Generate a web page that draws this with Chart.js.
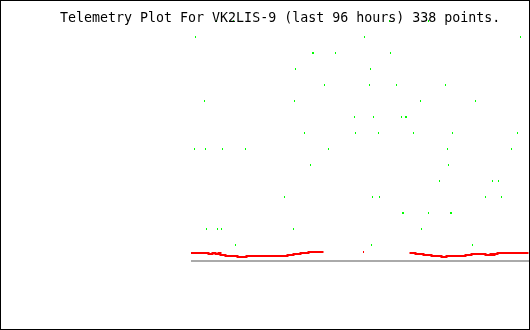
<!DOCTYPE html>
<html>
<head>
<meta charset="utf-8">
<script src="https://cdn.jsdelivr.net/npm/chart.js@4"></script>
<style>
body { margin: 0; background: #fff; }
canvas { display: block; }
</style>
</head>
<body>
<canvas id="plot" width="530" height="330"></canvas>
<script>
const plotTitle = "Telemetry Plot For VK2LIS-9 (last 96 hours) 338 points."

// green telemetry samples: point index and level
const greenIdx = [25,42,198,237, 4,173,329, 121,122,144,199, 104,179, 133,178,205,254,
    13,103,229,284, 163,182,210,214,215, 113,164,187,222,261,326, 3,14,31,54,137,256,320,
    119,257, 248,301,307, 93,181,188,294,310, 211,212,237,259,260, 15,26,30,102,230, 44,180,281]
const greenLevel = [15,15,15,15, 14,14,14, 13,13,13,13, 12,12, 11,11,11,11,
    10,10,10,10, 9,9,9,9,9, 8,8,8,8,8,8, 7,7,7,7,7,7,7,
    6,6, 5,5,5, 4,4,4,4,4, 3,3,3,3,3, 2,2,2,2,2, 1,1,1]

// red trace (step changes), null = no data
const redIdx = [0,17,21,24,27,29,34,46,55,96,102,109,117,127,132, 150,
    219,224,232,240,250,255,274,280,294,299,301,303,306,325,337]
const redVal = [0.4375,0.5,0.4375,0.5,0.4375,0.5,0.375,0.3125,0.25,0.3125,0.375,0.4375,0.5,0.5625,0.5625, null,
    0.5625,0.5,0.4375,0.375,0.3125,0.25,0.3125,0.375,0.4375,0.375,0.4375,0.375,0.4375,0.5,0.5]
const redDotIdx = [172]
const redDotVal = [0.5625]

const baseIdx = [-0.5, 337.5]
const baseVal = [0, 0]

const toPoints = (xs, ys) => xs.map((x, i) => ({x: x, y: ys[i]}))

const frame = {
    id: "frame",
    afterDraw(chart) {
        const c = chart.ctx
        c.save()
        c.fillStyle = "#000"
        c.font = '13.3px "DejaVu Sans Mono"'
        c.textBaseline = "alphabetic"
        c.fillText(plotTitle, 60, 22)
        c.strokeStyle = "#000"
        c.lineWidth = 1
        c.strokeRect(0.5, 0.5, 529, 329)
        c.restore()
    }
}

new Chart(document.getElementById("plot"), {
    type: "scatter",
    data: {
        datasets: [{
            data: toPoints(greenIdx, greenLevel),
            pointStyle: "line",
            rotation: 90,
            radius: 1,
            borderWidth: 1,
            borderColor: "#00ff00",
            backgroundColor: "#00ff00",
            clip: false
        }, {
            data: toPoints(redDotIdx, redDotVal),
            pointStyle: "line",
            rotation: 90,
            radius: 1,
            borderWidth: 1,
            borderColor: "#ff0000"
        }, {
            data: toPoints(redIdx, redVal),
            showLine: true,
            stepped: "after",
            spanGaps: false,
            pointRadius: 0,
            borderWidth: 2,
            borderColor: "#ff0000"
        }, {
            data: toPoints(baseIdx, baseVal),
            showLine: true,
            pointRadius: 0,
            borderWidth: 2,
            borderColor: "#aaaaaa"
        }]
    },
    options: {
        responsive: false,
        devicePixelRatio: 1,
        animation: false,
        layout: {autoPadding: false, padding: {left: 191, right: 1, top: 5, bottom: 1}},
        plugins: {legend: {display: false}, tooltip: {enabled: false}},
        scales: {
            x: {type: "linear", min: -0.5, max: 337.5, display: false},
            y: {type: "linear", min: -4.25, max: 16, display: false}
        }
    },
    plugins: [frame]
})
</script>
</body>
</html>
